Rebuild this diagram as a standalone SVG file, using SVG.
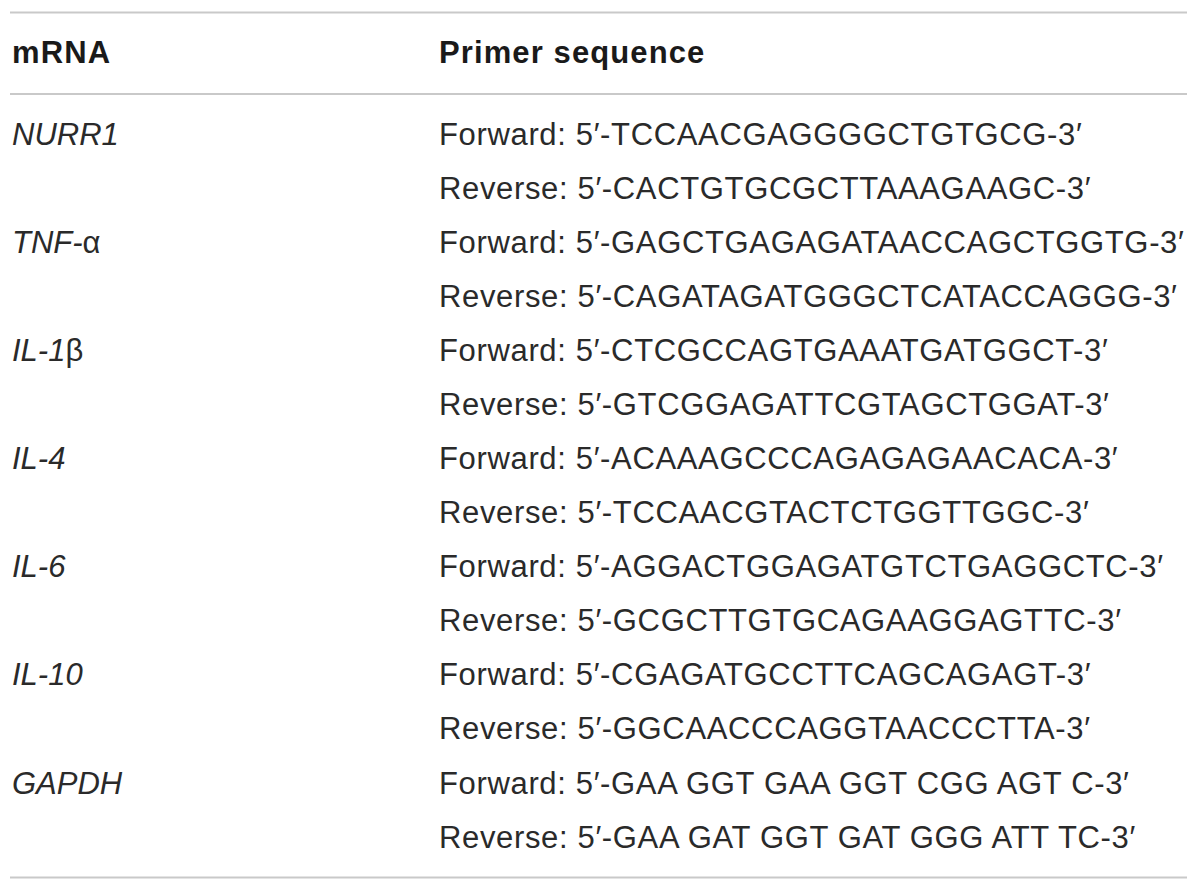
<svg xmlns="http://www.w3.org/2000/svg" width="1200" height="891" viewBox="0 0 1200 891">
<style>
  text { font-family: "Liberation Sans", Arial, sans-serif; font-size: 31px; fill: #2a2a2a; }
  .hd { font-weight: bold; fill: #1a1a1a; letter-spacing: 1.1px; }
  .gene { font-style: italic; }
  .up { font-style: normal; }
  .seq { letter-spacing: 0.65px; }
  .rule { stroke: #c9c9c9; stroke-width: 2.2; fill: none; }
</style>
<rect width="1200" height="891" fill="#ffffff"/>
<g id="rules">
  <line class="rule" x1="10" y1="12.5" x2="1187" y2="12.5"/>
  <line class="rule" x1="10" y1="94" x2="1187" y2="94"/>
  <line class="rule" x1="10" y1="877.5" x2="1187" y2="877.5"/>
</g>
<g id="header">
  <text class="hd" x="12" y="63">mRNA</text>
  <text class="hd" x="439" y="63">Primer sequence</text>
</g>
<g id="genes">
  <text class="gene" x="12" y="145">NURR1</text>
  <text class="gene" x="12" y="253">TNF-<tspan class="up">α</tspan></text>
  <text class="gene" x="12" y="361">IL-1<tspan class="up">β</tspan></text>
  <text class="gene" x="12" y="469">IL-4</text>
  <text class="gene" x="12" y="577">IL-6</text>
  <text class="gene" x="12" y="685">IL-10</text>
  <text class="gene" x="12" y="794">GAPDH</text>
</g>
<g id="primers">
  <text class="seq" x="439" y="145">Forward: 5′-TCCAACGAGGGGCTGTGCG-3′</text>
  <text class="seq" x="439" y="199">Reverse: 5′-CACTGTGCGCTTAAAGAAGC-3′</text>
  <text class="seq" x="439" y="253">Forward: 5′-GAGCTGAGAGATAACCAGCTGGTG-3′</text>
  <text class="seq" x="439" y="307">Reverse: 5′-CAGATAGATGGGCTCATACCAGGG-3′</text>
  <text class="seq" x="439" y="361">Forward: 5′-CTCGCCAGTGAAATGATGGCT-3′</text>
  <text class="seq" x="439" y="415">Reverse: 5′-GTCGGAGATTCGTAGCTGGAT-3′</text>
  <text class="seq" x="439" y="469">Forward: 5′-ACAAAGCCCAGAGAGAACACA-3′</text>
  <text class="seq" x="439" y="523">Reverse: 5′-TCCAACGTACTCTGGTTGGC-3′</text>
  <text class="seq" x="439" y="577">Forward: 5′-AGGACTGGAGATGTCTGAGGCTC-3′</text>
  <text class="seq" x="439" y="631">Reverse: 5′-GCGCTTGTGCAGAAGGAGTTC-3′</text>
  <text class="seq" x="439" y="685">Forward: 5′-CGAGATGCCTTCAGCAGAGT-3′</text>
  <text class="seq" x="439" y="739">Reverse: 5′-GGCAACCCAGGTAACCCTTA-3′</text>
  <text class="seq" x="439" y="794">Forward: 5′-GAA GGT GAA GGT CGG AGT C-3′</text>
  <text class="seq" x="439" y="848">Reverse: 5′-GAA GAT GGT GAT GGG ATT TC-3′</text>
</g>
</svg>
